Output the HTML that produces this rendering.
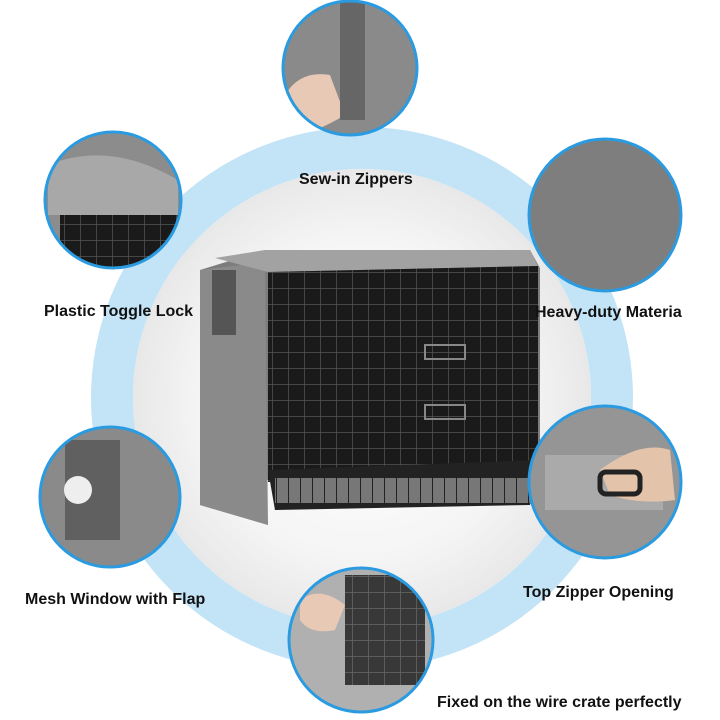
<!DOCTYPE html>
<html><head><meta charset="utf-8"><style>
body{margin:0;background:#fff;}
#c{position:relative;width:720px;height:720px;overflow:hidden;background:#fff;font-family:"Liberation Sans",sans-serif;}
.l{position:absolute;font-weight:bold;font-size:16px;color:#111;white-space:nowrap;}
</style></head><body><div id="c">
<svg width="720" height="720" style="position:absolute;left:0;top:0">
<defs>
<radialGradient id="inner" cx="50%" cy="50%" r="50%">
<stop offset="0" stop-color="#ffffff"/><stop offset="0.7" stop-color="#f5f5f5"/><stop offset="1" stop-color="#e8e8e8"/>
</radialGradient>
<pattern id="grid" width="16" height="16" patternUnits="userSpaceOnUse">
<rect width="16" height="16" fill="#1a1a1a"/><path d="M0 0H16M0 0V16" stroke="#555" stroke-width="1.5"/>
</pattern>
<pattern id="grid2" width="12" height="12" patternUnits="userSpaceOnUse">
<rect width="12" height="12" fill="#777"/><path d="M0 0V12" stroke="#222" stroke-width="2"/>
</pattern>
<clipPath id="c1"><circle cx="350" cy="68" r="67"/></clipPath>
<clipPath id="c2"><circle cx="113" cy="200" r="68"/></clipPath>
<clipPath id="c3"><circle cx="605" cy="215" r="76"/></clipPath>
<clipPath id="c4"><circle cx="110" cy="497" r="70"/></clipPath>
<clipPath id="c5"><circle cx="605" cy="482" r="76"/></clipPath>
<clipPath id="c6"><circle cx="361" cy="640" r="72"/></clipPath>
</defs>
<circle cx="362" cy="398" r="250" fill="none" stroke="#c3e4f6" stroke-width="42"/>
<circle cx="362" cy="398" r="229" fill="url(#inner)"/>
<!-- crate -->
<polygon points="200,270 265,250 530,250 540,268 540,470 265,480 268,525 200,505" fill="#7d7d7d"/>
<polygon points="200,270 265,262 268,525 200,505" fill="#8a8a8a"/>
<rect x="212" y="270" width="24" height="65" fill="#555"/>
<polygon points="215,258 265,250 530,250 538,266 268,272" fill="#a2a2a2"/>
<polygon points="268,272 538,266 538,470 268,482" fill="url(#grid)"/>
<polygon points="268,470 538,460 530,505 275,510" fill="#222"/>
<rect x="275" y="478" width="255" height="25" fill="url(#grid2)"/>
<rect x="425" y="345" width="40" height="14" fill="none" stroke="#888" stroke-width="2"/>
<rect x="425" y="405" width="40" height="14" fill="none" stroke="#888" stroke-width="2"/>
<!-- detail circles -->
<g clip-path="url(#c1)"><rect x="280" y="0" width="140" height="140" fill="#8a8a8a"/>
<path d="M285,95 Q300,70 330,75 L345,115 Q320,130 300,135 Z" fill="#e8c9b5"/>
<rect x="340" y="0" width="25" height="120" fill="#666"/></g>
<g clip-path="url(#c2)"><rect x="40" y="130" width="150" height="140" fill="#8c8c8c"/>
<path d="M48,165 Q110,140 178,180 L178,215 L48,215 Z" fill="#a8a8a8"/>
<rect x="60" y="215" width="120" height="55" fill="url(#grid)"/></g>
<g clip-path="url(#c3)"><rect x="525" y="135" width="160" height="160" fill="#7e7e7e"/></g>
<g clip-path="url(#c4)"><rect x="38" y="425" width="145" height="145" fill="#8a8a8a"/>
<rect x="65" y="440" width="55" height="100" fill="#555" opacity="0.8"/>
<circle cx="78" cy="490" r="14" fill="#eee"/></g>
<g clip-path="url(#c5)"><rect x="525" y="405" width="160" height="160" fill="#959595"/>
<rect x="545" y="455" width="118" height="55" fill="#aaa"/>
<path d="M600,470 Q640,440 670,450 L675,500 Q640,505 610,495 Z" fill="#e4c3ab"/>
<rect x="600" y="472" width="40" height="22" rx="6" fill="none" stroke="#222" stroke-width="5"/></g>
<g clip-path="url(#c6)"><rect x="285" y="565" width="155" height="155" fill="#b0b0b0"/>
<path d="M300,600 Q320,585 345,605 L335,630 Q310,635 300,620 Z" fill="#e8c9b5"/>
<rect x="345" y="575" width="80" height="110" fill="url(#grid)" opacity="0.8"/></g>
<g stroke="#2a9be0" stroke-width="3" fill="none">
<circle cx="350" cy="68" r="67"/>
<circle cx="113" cy="200" r="68"/>
<circle cx="605" cy="215" r="76"/>
<circle cx="110" cy="497" r="70"/>
<circle cx="605" cy="482" r="76"/>
<circle cx="361" cy="640" r="72"/>
</g>
</svg>
<div class="l" style="left:299px;top:171px">Sew-in Zippers</div>
<div class="l" style="left:44px;top:303px">Plastic Toggle Lock</div>
<div class="l" style="left:535px;top:304px">Heavy-duty Materia</div>
<div class="l" style="left:25px;top:591px">Mesh Window with Flap</div>
<div class="l" style="left:523px;top:584px">Top Zipper Opening</div>
<div class="l" style="left:437px;top:694px">Fixed on the wire crate perfectly</div>
</div></body></html>
